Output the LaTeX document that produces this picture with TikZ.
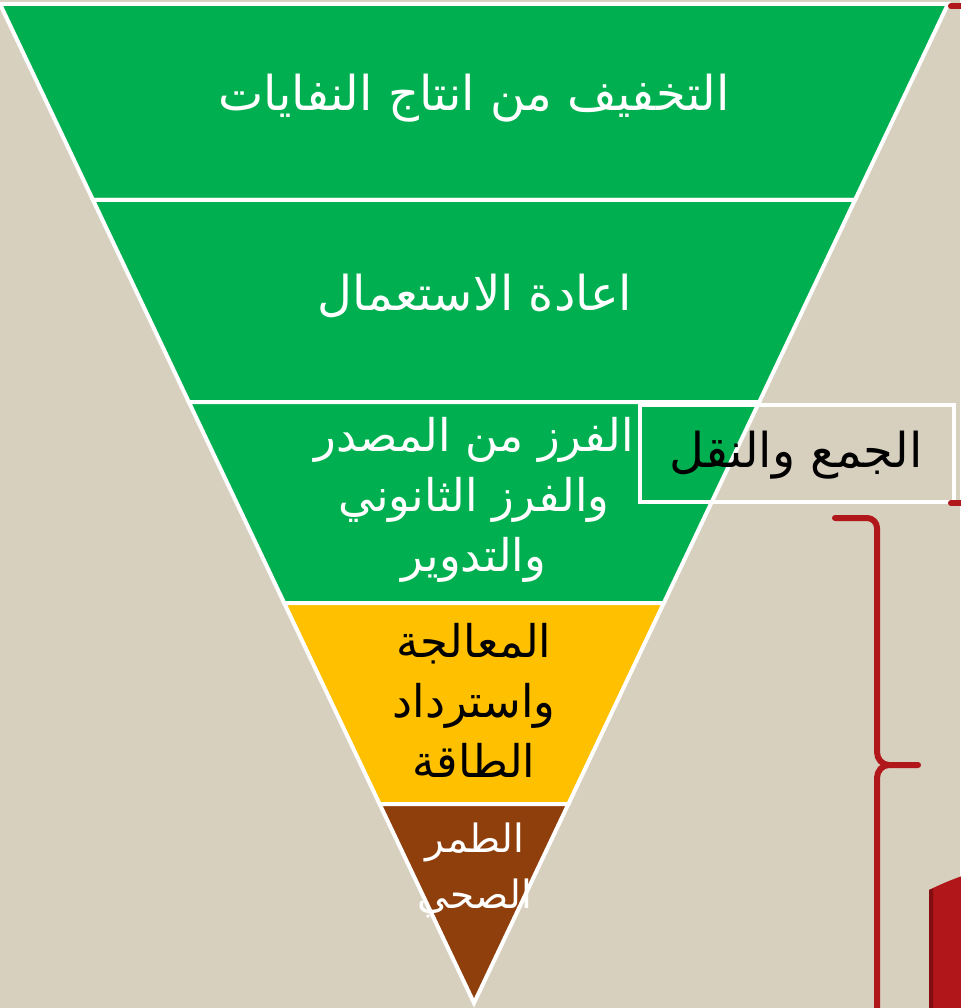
\documentclass[tikz,border=0pt]{standalone}
\usepackage{fontspec}
\newfontfamily\arabicfont[Script=Arabic]{DejaVu Sans}
\TeXXeTstate=1
\definecolor{bgbeige}{RGB}{216,208,191}
\definecolor{pgreen}{RGB}{0,176,80}
\definecolor{pyellow}{RGB}{255,192,0}
\definecolor{pbrown}{RGB}{143,63,12}
\definecolor{pred}{RGB}{176,22,26}
\definecolor{pdarkred}{RGB}{130,14,16}
\tikzset{
  band/.style={draw=white, line width=4pt, line join=miter},
  lbl/.style={font=\arabicfont\fontsize{48}{60}\selectfont, align=center, inner sep=0pt},
  lblm/.style={font=\arabicfont\fontsize{45}{60}\selectfont, align=center, inner sep=0pt},
  bracered/.style={draw=pred, line width=6pt, line cap=round, line join=round},
}
\begin{document}
\begin{tikzpicture}[x=1pt,y=-1pt]
\fill[bgbeige] (0,0) rectangle (960,1008);
\useasboundingbox (0,0) rectangle (960,1008);
% bands
\path[band, fill=pgreen] (0,4) -- (948,4) -- (855.0,200) -- (93.0,200) -- cycle;
\path[band, fill=pgreen] (93.0,200) -- (855.0,200) -- (759.2,402) -- (188.8,402) -- cycle;
\path[band, fill=pgreen] (188.8,402) -- (759.2,402) -- (663.8,603) -- (284.2,603) -- cycle;
\path[band, fill=pyellow] (284.2,603) -- (663.8,603) -- (568.4,804) -- (379.6,804) -- cycle;
\path[band, fill=pbrown] (379.6,804) -- (568.4,804) -- (474,1003) -- cycle;
% labels
\node[lbl, text=white] (t1) at (474,98) {\beginR التخفيف من انتاج النفايات\endR};
\node[lbl, text=white] (t2) at (475,296) {\beginR اعادة الاستعمال\endR};
\node[lblm, text=white] (t3) at (474,500) {\beginR الفرز من المصدر\endR\\\beginR والفرز الثانوني\endR\\\beginR والتدوير\endR};
\node[lblm, text=black] (t4) at (474,700) {\beginR المعالجة\endR\\\beginR واسترداد\endR\\\beginR الطاقة\endR};
\node[lbl, text=white, font=\arabicfont\fontsize{39}{56}\selectfont] (t5) at (475,870) {\beginR الطمر\endR\\\beginR الصحي\endR};
% collection box
\node[draw=white, line width=3.5pt, minimum width=314pt, minimum height=97pt, inner sep=0pt] (box) at (797,453.5) {};
\node[lbl, text=black] (boxt) at (796,455) {\beginR الجمع والنقل\endR};
% red braces
\coordinate (b1) at (835,518);
\coordinate (b2) at (918,765);
\coordinate (b3) at (877,1015);
\draw[bracered] (b1) -- (867,518) to[out=0,in=90] (877,528) -- (877,752) to[out=-90,in=180] (889,765) -- (b2);
\draw[bracered] (889,765) to[out=180,in=90] (877,778) -- (b3);
\coordinate (r1) at (951,6);
\coordinate (r2) at (968,6);
\coordinate (r3) at (951,503);
\coordinate (r4) at (968,503);
\draw[bracered] (r1) -- (r2);
\draw[bracered] (r3) -- (r4);
% red shape bottom right
\fill[pred] (929,890) to[bend left=3] (962,876) -- (962,1010) -- (929,1010) -- cycle;
\fill[pdarkred] (929,890) -- (933,888.5) -- (933,1010) -- (929,1010) -- cycle;
\end{tikzpicture}
\end{document}
